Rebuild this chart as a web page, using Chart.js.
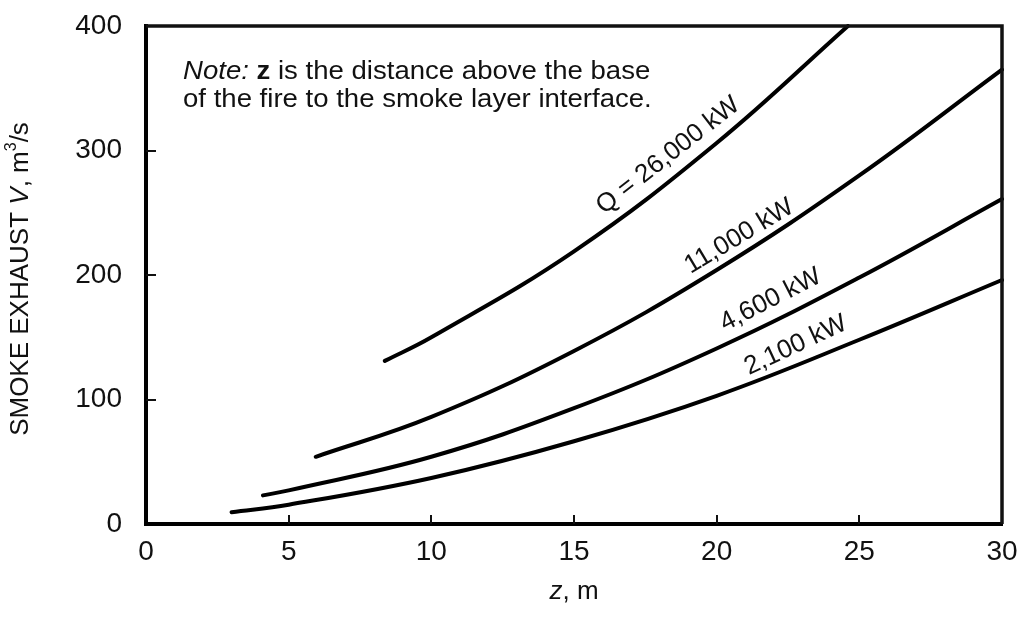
<!DOCTYPE html>
<html>
<head>
<meta charset="utf-8">
<script src="https://cdn.jsdelivr.net/npm/chart.js@4.4.1/dist/chart.umd.min.js"></script>
<style>
  html, body { margin: 0; padding: 0; background: #ffffff; }
  #wrap { width: 1024px; height: 620px; }
</style>
</head>
<body>
<div id="wrap"><canvas id="c" width="1024" height="620"></canvas></div>
<script>
// ---- data ----
const xTicks = [0, 5, 10, 15, 20, 25, 30];
const yTicks = [0, 100, 200, 300, 400];

const seriesNames = ["2,100 kW", "4,600 kW", "11,000 kW", "Q = 26,000 kW"];

const z2100 = [3.0, 5, 10, 15, 20, 25, 30];
const v2100 = [9.5, 15.5, 37, 66.5, 103, 148, 196];

const z4600 = [4.1, 5, 10, 15, 20, 25, 30];
const v4600 = [23, 27, 54, 93, 141, 198, 261];

const z11000 = [5.95, 10, 15, 20, 25, 30];
const v11000 = [54, 86, 139, 204, 280, 365];

const z26000 = [8.37, 10, 15, 20, 24.6];
const v26000 = [131, 150, 219, 306, 400];

// label anchor points (data coordinates) for the curve labels
const labelZ = [22.77, 21.89, 20.79, 18.3];
const labelV = [143.5, 180, 231, 296];

// ---- styles ----
const FONT = '"Liberation Sans", Arial, Helvetica, sans-serif';
const TEXT = '#111111';
const labelAngles = [25, 27, 31, 38];

function pts(zs, vs) { return zs.map((z, i) => ({ x: z, y: vs[i] })); }

const lineStyle = {
  borderColor: '#000000',
  borderWidth: 4,
  pointRadius: 0,
  fill: false,
  tension: 0.4,
  borderCapStyle: 'round',
  clip: 2
};

const decorPlugin = {
  id: 'decor',
  afterDatasetsDraw(chart) {
    const ctx = chart.ctx;
    const xs = chart.scales.x, ys = chart.scales.y;
    const a = chart.chartArea;
    ctx.save();
    // top and right frame
    ctx.strokeStyle = '#111';
    ctx.lineWidth = 3.5;
    ctx.beginPath();
    ctx.moveTo(a.left, a.top);
    ctx.lineTo(a.right, a.top);
    ctx.lineTo(a.right, a.bottom);
    ctx.stroke();
    // inner ticks
    ctx.lineWidth = 2;
    ctx.beginPath();
    xTicks.slice(1, -1).forEach(t => {
      const px = Math.round(xs.getPixelForValue(t));
      ctx.moveTo(px, a.bottom);
      ctx.lineTo(px, a.bottom - 9);
    });
    yTicks.slice(1, -1).forEach(t => {
      const py = Math.round(ys.getPixelForValue(t));
      ctx.moveTo(a.left, py);
      ctx.lineTo(a.left + 10, py);
    });
    ctx.stroke();

    // curve labels
    ctx.fillStyle = TEXT;
    ctx.font = '26px ' + FONT;
    ctx.textAlign = 'center';
    ctx.textBaseline = 'middle';
    seriesNames.forEach((name, i) => {
      const px = xs.getPixelForValue(labelZ[i]);
      const py = ys.getPixelForValue(labelV[i]);
      ctx.save();
      ctx.translate(px, py);
      ctx.rotate(-labelAngles[i] * Math.PI / 180);
      ctx.fillText(name, 0, 0);
      ctx.restore();
    });

    // note
    ctx.textAlign = 'left';
    ctx.textBaseline = 'alphabetic';
    ctx.save();
    ctx.translate(183, 0);
    ctx.scale(1.06, 1);
    const y1 = 79, y2 = 107;
    const parts1 = [
      ['italic 26px ' + FONT, 'Note:'],
      ['26px ' + FONT, ' '],
      ['bold 26px ' + FONT, 'z'],
      ['26px ' + FONT, ' is the distance above the base']
    ];
    let cx = 0;
    parts1.forEach(([f, t]) => { ctx.font = f; ctx.fillText(t, cx, y1); cx += ctx.measureText(t).width; });
    ctx.font = '26px ' + FONT;
    ctx.fillText('of the fire to the smoke layer interface.', 0, y2);
    ctx.restore();

    // x axis title
    ctx.textBaseline = 'middle';
    const xt = [['italic 26px ' + FONT, 'z'], ['26px ' + FONT, ', m']];
    let w = 0;
    xt.forEach(([f, t]) => { ctx.font = f; w += ctx.measureText(t).width; });
    cx = (a.left + a.right) / 2 - w / 2;
    xt.forEach(([f, t]) => { ctx.font = f; ctx.fillText(t, cx, 592); cx += ctx.measureText(t).width; });

    // y axis title (rotated)
    const yt = [
      ['26px ' + FONT, 'SMOKE EXHAUST ', 0],
      ['italic 26px ' + FONT, 'V', 0],
      ['26px ' + FONT, ', m', 0],
      ['16px ' + FONT, '3', -9],
      ['26px ' + FONT, '/s', 0]
    ];
    w = 0;
    yt.forEach(([f, t]) => { ctx.font = f; w += ctx.measureText(t).width; });
    ctx.save();
    ctx.translate(21, 279);
    ctx.rotate(-Math.PI / 2);
    cx = -w / 2;
    yt.forEach(([f, t, dy]) => { ctx.font = f; ctx.fillText(t, cx, dy); cx += ctx.measureText(t).width; });
    ctx.restore();

    ctx.restore();
  }
};

new Chart(document.getElementById('c'), {
  type: 'line',
  data: {
    datasets: [
      Object.assign({ label: seriesNames[0], data: pts(z2100, v2100) }, lineStyle),
      Object.assign({ label: seriesNames[1], data: pts(z4600, v4600) }, lineStyle),
      Object.assign({ label: seriesNames[2], data: pts(z11000, v11000) }, lineStyle),
      Object.assign({ label: seriesNames[3], data: pts(z26000, v26000) }, lineStyle)
    ]
  },
  options: {
    responsive: false,
    animation: false,
    devicePixelRatio: 1,
    layout: { padding: { top: 26, right: 22, left: 0, bottom: 0 } },
    plugins: { legend: { display: false }, tooltip: { enabled: false }, title: { display: false } },
    scales: {
      x: {
        type: 'linear',
        min: 0, max: 30,
        afterBuildTicks: s => { s.ticks = xTicks.map(v => ({ value: v })); },
        afterFit: s => { s.height = 96; s.paddingLeft = 0; s.paddingRight = 0; },
        grid: { display: true, drawOnChartArea: false, drawTicks: false, color: 'rgba(0,0,0,0)' },
        border: { display: true, color: '#000', width: 4 },
        ticks: { color: TEXT, font: { family: FONT, size: 28 }, padding: 11, maxRotation: 0 }
      },
      y: {
        type: 'linear',
        min: 0, max: 400,
        afterBuildTicks: s => { s.ticks = yTicks.map(v => ({ value: v })); },
        afterFit: s => { s.width = 146; s.paddingTop = 0; s.paddingBottom = 0; },
        grid: { display: true, drawOnChartArea: false, drawTicks: false, color: 'rgba(0,0,0,0)' },
        border: { display: true, color: '#000', width: 4 },
        ticks: { color: TEXT, font: { family: FONT, size: 28 }, padding: 24 }
      }
    }
  },
  plugins: [decorPlugin]
});
</script>
</body>
</html>
